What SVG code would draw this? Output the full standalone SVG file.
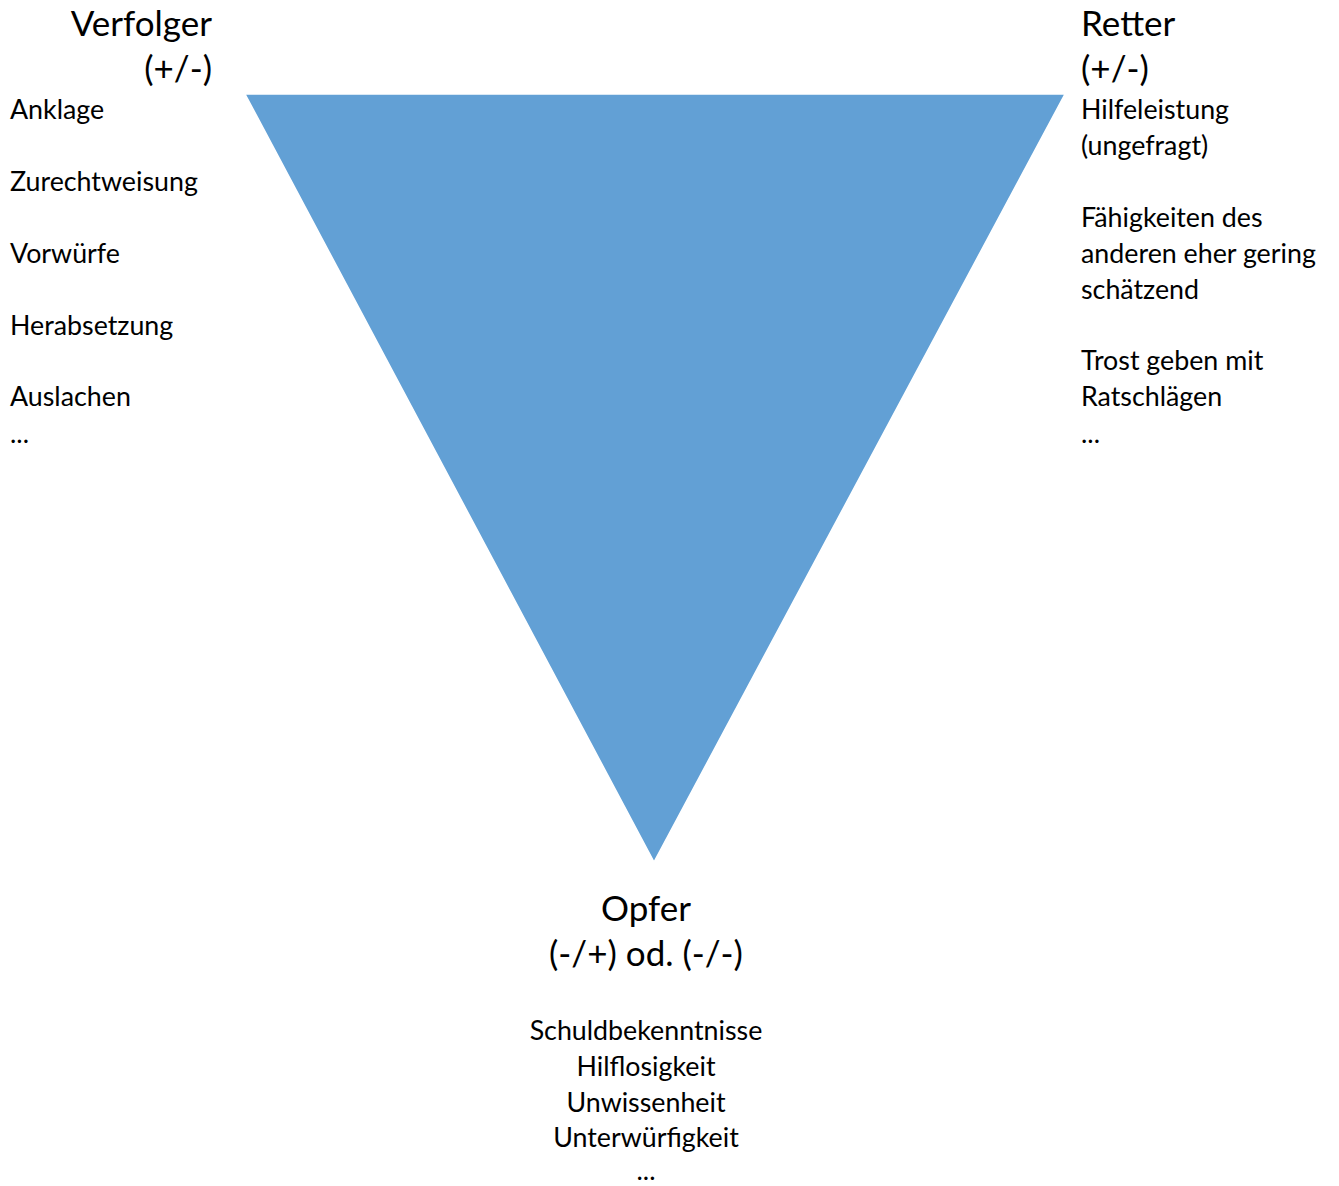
<svg xmlns="http://www.w3.org/2000/svg" width="1339" height="1186" viewBox="0 0 1339 1186">
<style>
text{font-family:Lato,"Open Sans","Liberation Sans",sans-serif;fill:#000}
.h{font-size:35px}
.b{font-size:26.8px}
.r{text-anchor:end}
.c{text-anchor:middle}
</style>
<rect width="1339" height="1186" fill="#fff"/>
<g id="triangle">
<polygon points="245,94 1065,94 654,862" fill="#62a0d5" stroke="#ffffff" stroke-width="1.5"/>
</g>
<g id="verfolger">
<text class="h r" x="212" y="36">Verfolger</text>
<text class="h r" x="212" y="81">(+/-)</text>
<text class="b" x="10" y="119">Anklage</text>
<text class="b" x="10" y="191">Zurechtweisung</text>
<text class="b" x="10" y="263">Vorwürfe</text>
<text class="b" x="10" y="335">Herabsetzung</text>
<text class="b" x="10" y="406">Auslachen</text>
<text class="b" x="10" y="443">...</text>
</g>
<g id="retter">
<text class="h" x="1081" y="36">Retter</text>
<text class="h" x="1081" y="81">(+/-)</text>
<text class="b" x="1081" y="119">Hilfeleistung</text>
<text class="b" x="1081" y="155">(ungefragt)</text>
<text class="b" x="1081" y="227">Fähigkeiten des</text>
<text class="b" x="1081" y="263">anderen eher gering</text>
<text class="b" x="1081" y="299">schätzend</text>
<text class="b" x="1081" y="370">Trost geben mit</text>
<text class="b" x="1081" y="406">Ratschlägen</text>
<text class="b" x="1081" y="443">...</text>
</g>
<g id="opfer">
<text class="h c" x="646" y="921">Opfer</text>
<text class="h c" x="646" y="966">(-/+) od. (-/-)</text>
<text class="b c" x="646" y="1040">Schuldbekenntnisse</text>
<text class="b c" x="646" y="1076">Hilflosigkeit</text>
<text class="b c" x="646" y="1112">Unwissenheit</text>
<text class="b c" x="646" y="1147">Unterwürfigkeit</text>
<text class="b c" x="646" y="1180">...</text>
</g>
<g id="connectors"/>
</svg>
